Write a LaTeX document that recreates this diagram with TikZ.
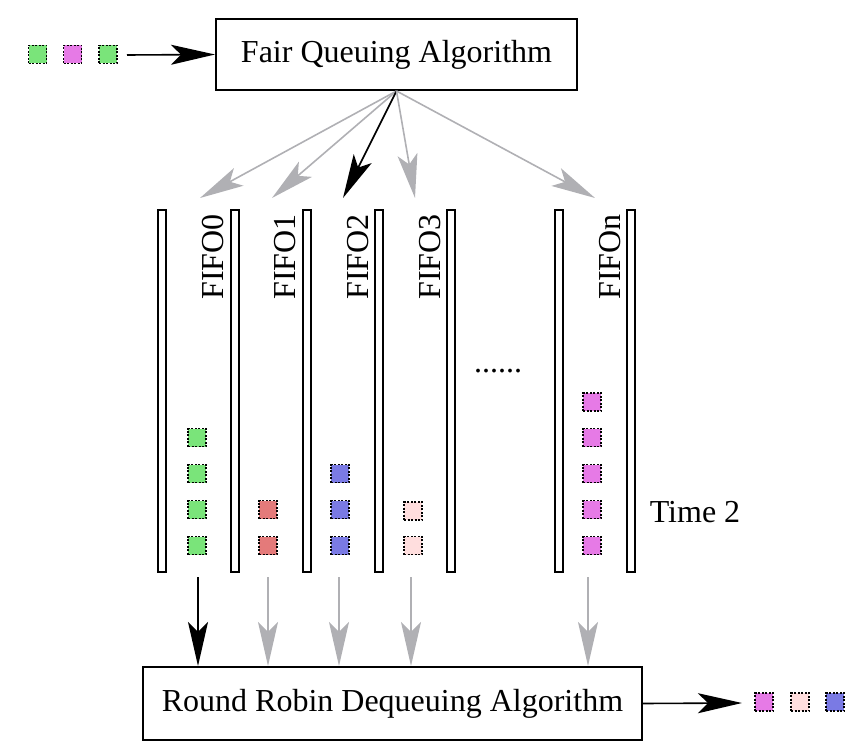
\documentclass[tikz,border=0pt]{standalone}
\usepackage{fontspec}
\setmainfont{Liberation Serif}
\usetikzlibrary{arrows.meta}
\definecolor{pktgreen}{RGB}{122,228,122}
\definecolor{pktmagenta}{RGB}{230,122,230}
\definecolor{pktred}{RGB}{228,122,122}
\definecolor{pktblue}{RGB}{122,122,228}
\definecolor{pktpink}{RGB}{255,222,222}
\definecolor{arrowgray}{RGB}{176,176,180}

\begin{document}
\begin{tikzpicture}[x=1pt, y=-1pt,
  qbox/.style={draw, line width=2pt, minimum height=71pt, inner sep=0pt},
  wall/.style={draw, line width=1.6pt, fill=white, minimum width=8pt, minimum height=362pt, inner sep=0pt},
  pkt/.style={draw, line width=1.4pt, dash pattern=on 2pt off 1.5pt, minimum size=18pt, inner sep=0pt},
  lbl/.style={rotate=90, inner sep=0pt},
  sel/.style={draw=black, line width=1.6pt, -{Stealth[length=44pt, width=20pt, inset=10pt]}},
  flow/.style={sel, draw=arrowgray}]
\fontsize{32}{38}\selectfont
\useasboundingbox (0,0) rectangle (868,754);
% algorithms
\node[qbox, minimum width=361pt] (fq) at (396.5,54.5) {Fair Queuing Algorithm};
\node[qbox, minimum width=499pt, minimum height=73pt] (rr) at (392.5,703.5) {Round Robin Dequeuing Algorithm};
% incoming packets
\node[pkt, fill=pktgreen] (a1) at (37.5,54.5) {};
\node[pkt, fill=pktmagenta] (a2) at (72.5,54.5) {};
\node[pkt, fill=pktgreen] (a3) at (108,54.5) {};
\coordinate (in) at (127,55);
% fifo walls
\node[wall] (w0) at (162,391) {};
\node[wall] (w1) at (235,391) {};
\node[wall] (w2) at (307,391) {};
\node[wall] (w3) at (379,391) {};
\node[wall] (w4) at (451,391) {};
\node[wall] (w5) at (559,391) {};
\node[wall] (w6) at (631,391) {};
\node[lbl] (f0) at (213,257) {FIFO0};
\node[lbl] (f1) at (285,257) {FIFO1};
\node[lbl] (f2) at (358,257) {FIFO2};
\node[lbl] (f3) at (430,257) {FIFO3};
\node[lbl] (fn) at (610,257) {FIFOn};
\node[inner sep=0pt] (dots) at (498,371) {......};
\node[inner sep=0pt] (time) at (695,512) {Time 2};
% queued packets
\node[pkt, fill=pktgreen] (p01) at (197,437.5) {};
\node[pkt, fill=pktgreen] (p02) at (197,473.5) {};
\node[pkt, fill=pktgreen] (p03) at (197,509.5) {};
\node[pkt, fill=pktgreen] (p04) at (197,545.5) {};
\node[pkt, fill=pktred] (p11) at (268,509.5) {};
\node[pkt, fill=pktred] (p12) at (268,545.5) {};
\node[pkt, fill=pktblue] (p21) at (340,473.5) {};
\node[pkt, fill=pktblue] (p22) at (340,509.5) {};
\node[pkt, fill=pktblue] (p23) at (340,545.5) {};
\node[pkt, fill=pktpink] (p31) at (413,511) {};
\node[pkt, fill=pktpink] (p32) at (413,545.5) {};
\node[pkt, fill=pktmagenta] (pn1) at (592,402) {};
\node[pkt, fill=pktmagenta] (pn2) at (592,437.5) {};
\node[pkt, fill=pktmagenta] (pn3) at (592,473.5) {};
\node[pkt, fill=pktmagenta] (pn4) at (592,509.5) {};
\node[pkt, fill=pktmagenta] (pn5) at (592,545.5) {};
% outgoing packets
\coordinate (out) at (742,703);
\node[pkt, fill=pktmagenta] (c1) at (764,702) {};
\node[pkt, fill=pktpink] (c2) at (800,702) {};
\node[pkt, fill=pktblue] (c3) at (835,702) {};
% arrow ends
\coordinate (t0) at (200,198);
\coordinate (t1) at (272,198);
\coordinate (t2) at (343,198);
\coordinate (t3) at (415,198);
\coordinate (tn) at (595,198);
\coordinate (b0) at (198,577);
\coordinate (b1) at (268,577);
\coordinate (b2) at (339,577);
\coordinate (b3) at (411,577);
\coordinate (bn) at (588,577);
\draw[sel] (in) -- (fq.west);
\draw[flow] (fq.south) -- (t0);
\draw[flow] (fq.south) -- (t1);
\draw[sel] (fq.south) -- (t2);
\draw[flow] (fq.south) -- (t3);
\draw[flow] (fq.south) -- (tn);
\draw[sel] (b0) -- (b0 |- rr.north);
\draw[flow] (b1) -- (b1 |- rr.north);
\draw[flow] (b2) -- (b2 |- rr.north);
\draw[flow] (b3) -- (b3 |- rr.north);
\draw[flow] (bn) -- (bn |- rr.north);
\draw[sel] (rr.east) -- (out);
\end{tikzpicture}
\end{document}
